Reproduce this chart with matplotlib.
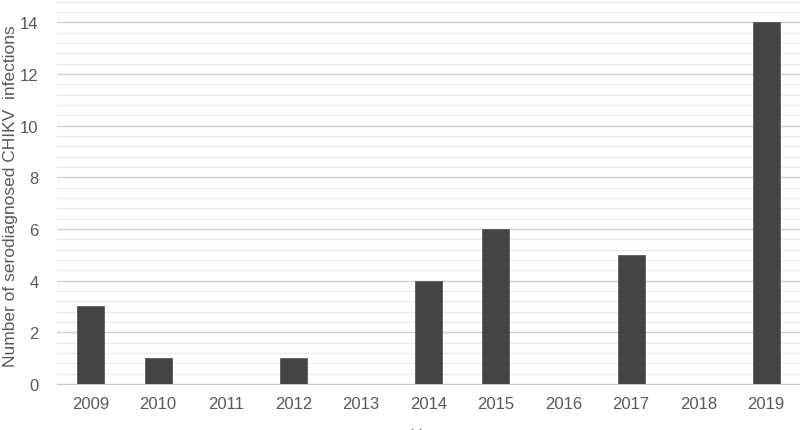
import matplotlib.pyplot as plt
from matplotlib.ticker import MultipleLocator

years = ["2009", "2010", "2011", "2012", "2013", "2014", "2015", "2016", "2017", "2018", "2019"]
infections = [3, 1, 0, 1, 0, 4, 6, 0, 5, 0, 14]

plt.rcParams['font.family'] = ['Liberation Sans Narrow', 'Liberation Sans', 'DejaVu Sans']

fig = plt.figure(figsize=(8, 4.31), dpi=100)
ax = fig.add_axes([0.071, 0.107, 0.929, 0.893])

x = range(len(years))
ax.bar(x, infections, width=0.4, color="#444444", edgecolor="#5a5a5a", linewidth=0.6, zorder=3)

ax.set_xlim(-0.5, len(years) - 0.5)
ax.set_ylim(0, 14.9)
ax.yaxis.set_major_locator(MultipleLocator(2))
ax.yaxis.set_minor_locator(MultipleLocator(0.4))
ax.grid(True, which="major", axis="y", color="#d0d0d0", linewidth=1.0, zorder=0)
ax.grid(True, which="minor", axis="y", color="#ececec", linewidth=1.0, zorder=0)

ax.set_xticks(list(x))
ax.set_xticklabels(years)
ax.tick_params(axis="both", which="both", length=0, labelsize=12, labelcolor="#595959")
ax.tick_params(axis="x", pad=9)
ax.tick_params(axis="y", pad=13)

for s in ["top", "right", "left"]:
    ax.spines[s].set_visible(False)
ax.spines["bottom"].set_color("#c8c8c8")

ax.set_ylabel("Number of serodiagnosed CHIKV  infections", fontsize=12.5, color="#595959")
ax.yaxis.set_label_coords(-0.052, 0.49)
fig.text(0.535, 0.005, "Year", ha="center", va="top", fontsize=12, color="#595959")

fig.savefig("out.png", dpi=100)
